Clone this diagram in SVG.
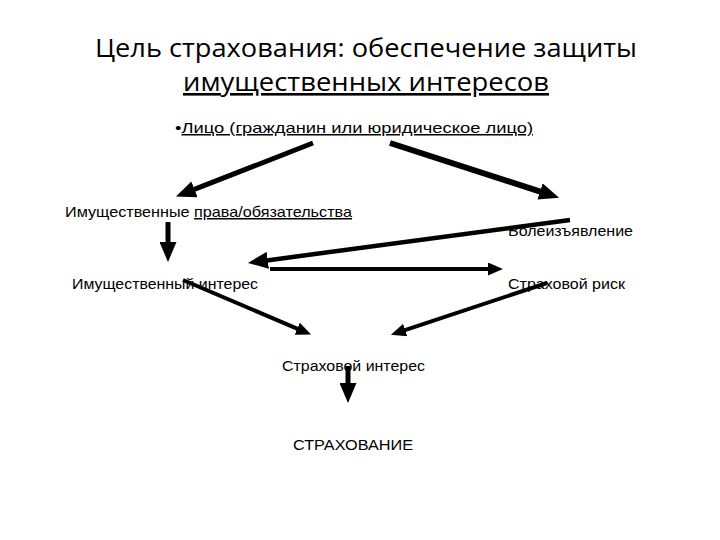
<svg xmlns="http://www.w3.org/2000/svg" width="720" height="540" viewBox="0 0 720 540">
<style>
.t{font-family:"Open Sans","Noto Sans","DejaVu Sans",sans-serif;fill:#000}
.b{font-family:"Liberation Sans",Arial,sans-serif;fill:#000;font-size:15px}
.c{stroke:#000;fill:none;stroke-linecap:butt}
</style>
<defs>
<marker id="ah" markerWidth="20" markerHeight="17" refX="1" refY="8.5" orient="auto" markerUnits="userSpaceOnUse" viewBox="0 0 20 17">
<path d="M0,0 L20,8.5 L0,17 Z" fill="#000"/>
</marker>
<marker id="as" markerWidth="15" markerHeight="13" refX="1" refY="6.5" orient="auto" markerUnits="userSpaceOnUse" viewBox="0 0 15 13">
<path d="M0,0 L15,6.5 L0,13 Z" fill="#000"/>
</marker>
</defs>
<rect width="720" height="540" fill="#fff"/>
<g id="title">
<text class="t" x="366" y="57" font-size="26" text-anchor="middle" textLength="542" lengthAdjust="spacingAndGlyphs">Цель страхования: обеспечение защиты</text>
<text class="t" x="366" y="91" font-size="26" text-anchor="middle" textLength="366" lengthAdjust="spacingAndGlyphs" text-decoration="underline">имущественных интересов</text>
</g>
<g id="person">
<text class="b" x="175" y="133" textLength="358" lengthAdjust="spacingAndGlyphs">•<tspan text-decoration="underline">Лицо (гражданин или юридическое лицо)</tspan></text>
</g>
<g id="rights">
<text class="b" x="65" y="217" textLength="287" lengthAdjust="spacingAndGlyphs">Имущественные <tspan text-decoration="underline">права/обязательства</tspan></text>
</g>
<g id="will">
<text class="b" x="508" y="236" textLength="125" lengthAdjust="spacingAndGlyphs">Волеизъявление</text>
</g>
<g id="propinterest">
<text class="b" x="72" y="289" textLength="186" lengthAdjust="spacingAndGlyphs">Имущественный интерес</text>
</g>
<g id="risk">
<text class="b" x="508" y="289" textLength="117" lengthAdjust="spacingAndGlyphs">Страховой риск</text>
</g>
<g id="insinterest">
<text class="b" x="282" y="371" textLength="143" lengthAdjust="spacingAndGlyphs">Страховой интерес</text>
</g>
<g id="insurance">
<text class="b" x="293" y="450" textLength="120" lengthAdjust="spacingAndGlyphs">СТРАХОВАНИЕ</text>
</g>
<g id="connectors">
<line class="c" x1="313" y1="143" x2="193.6" y2="189.7" stroke-width="5" marker-end="url(#ah)"/>
<line class="c" x1="390" y1="143" x2="541" y2="191.8" stroke-width="6" marker-end="url(#ah)"/>
<line class="c" x1="168" y1="222" x2="168" y2="243" stroke-width="5" marker-end="url(#ah)"/>
<line class="c" x1="570" y1="220" x2="266.8" y2="260.4" stroke-width="4.5" marker-end="url(#ah)"/>
<line class="c" x1="270" y1="269" x2="489" y2="269" stroke-width="4" marker-end="url(#as)"/>
<line class="c" x1="183" y1="280" x2="298.2" y2="329.1" stroke-width="4" marker-end="url(#as)"/>
<line class="c" x1="547" y1="283" x2="404.2" y2="330.3" stroke-width="4" marker-end="url(#as)"/>
<line class="c" x1="348" y1="366" x2="348" y2="384" stroke-width="5" marker-end="url(#ah)"/>
</g>
</svg>
